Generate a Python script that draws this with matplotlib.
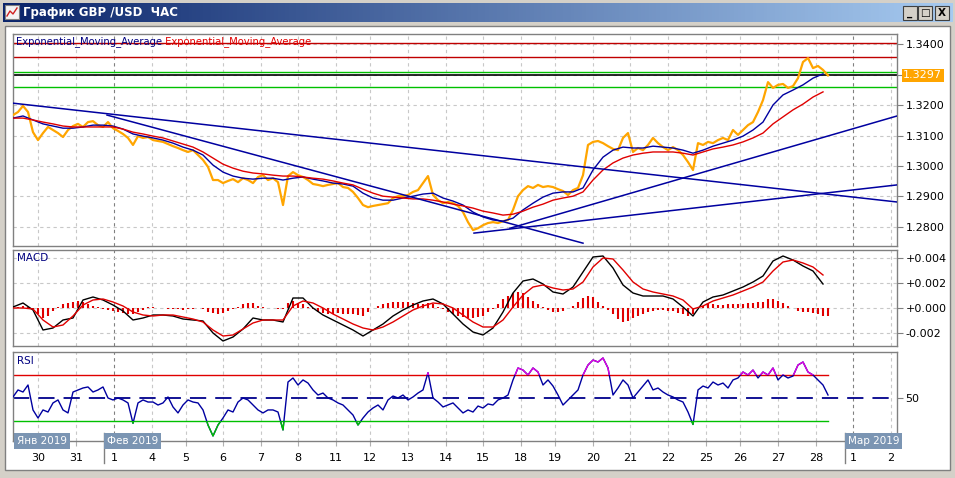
import numpy as np
import matplotlib
matplotlib.use("Agg")
import matplotlib.pyplot as plt
import matplotlib.transforms as mtrans
from matplotlib.colors import LinearSegmentedColormap
from matplotlib.patches import Rectangle
from matplotlib.lines import Line2D

W, H = 955, 478

# ---- data (GBP/USD, 1h) ----
# close price, one sample every 5 chart units
price = [
    1.3167, 1.3177, 1.3197, 1.3177, 1.3111, 1.3085, 1.3108, 1.3128, 1.3118, 1.3108,
    1.3095, 1.3118, 1.3131, 1.3138, 1.3128, 1.3144, 1.3147, 1.3134, 1.3128, 1.3144,
    1.3124, 1.3115, 1.3105, 1.3092, 1.3069, 1.3098, 1.3092, 1.3095, 1.3085, 1.3082,
    1.3079, 1.3072, 1.3065, 1.3059, 1.3052, 1.3046, 1.3052, 1.3036, 1.3020, 1.2997,
    1.2954, 1.2954, 1.2944, 1.2951, 1.2957, 1.2947, 1.2960, 1.2954, 1.2944, 1.2964,
    1.2970, 1.2954, 1.2960, 1.2947, 1.2872, 1.2967, 1.2980, 1.2970, 1.2964, 1.2954,
    1.2941, 1.2938, 1.2934, 1.2938, 1.2941, 1.2944, 1.2931, 1.2928, 1.2915, 1.2895,
    1.2872, 1.2865, 1.2869, 1.2872, 1.2875, 1.2878, 1.2895, 1.2901, 1.2901, 1.2905,
    1.2915, 1.2921, 1.2944, 1.2967, 1.2905, 1.2888, 1.2878, 1.2882, 1.2878, 1.2869,
    1.2849, 1.2816, 1.2790, 1.2796, 1.2806, 1.2813, 1.2816, 1.2813, 1.2819, 1.2823,
    1.2856, 1.2901, 1.2921, 1.2934, 1.2928, 1.2938, 1.2931, 1.2934, 1.2931, 1.2924,
    1.2918, 1.2905, 1.2921, 1.2928, 1.2970, 1.3069, 1.3079, 1.3082, 1.3075, 1.3065,
    1.3056, 1.3052, 1.3092, 1.3108, 1.3046, 1.3059, 1.3052, 1.3069, 1.3092, 1.3075,
    1.3062, 1.3052, 1.3062, 1.3052, 1.3036, 1.3013, 1.2987, 1.3075, 1.3069, 1.3079,
    1.3075, 1.3085, 1.3092, 1.3085, 1.3118, 1.3102, 1.3118, 1.3134, 1.3144, 1.3177,
    1.3216, 1.3275, 1.3256, 1.3266, 1.3269, 1.3256, 1.3262, 1.3288, 1.3341, 1.3354,
    1.3321, 1.3328, 1.3315, 1.3297,
]

# moving averages, one sample every 10 chart units
ema_fast = [
    1.3157, 1.3164, 1.3151, 1.3138, 1.3131, 1.3124, 1.3124, 1.3128, 1.3134, 1.3134,
    1.3131, 1.3121, 1.3105, 1.3098, 1.3092, 1.3085, 1.3075, 1.3062, 1.3052, 1.3036,
    1.3003, 1.2980, 1.2967, 1.2960, 1.2957, 1.2960, 1.2960, 1.2954, 1.2960, 1.2964,
    1.2957, 1.2951, 1.2944, 1.2941, 1.2934, 1.2911, 1.2895, 1.2888, 1.2888, 1.2895,
    1.2901, 1.2908, 1.2911, 1.2895, 1.2885, 1.2872, 1.2849, 1.2833, 1.2823, 1.2819,
    1.2829, 1.2856, 1.2878, 1.2898, 1.2911, 1.2915, 1.2915, 1.2928, 1.2987, 1.3029,
    1.3052, 1.3062, 1.3059, 1.3059, 1.3065, 1.3062, 1.3059, 1.3052, 1.3042, 1.3052,
    1.3065, 1.3075, 1.3085, 1.3098, 1.3118, 1.3144, 1.3200, 1.3233, 1.3249, 1.3266,
    1.3288, 1.3302,
]
ema_slow = [
    1.3157, 1.3157, 1.3151, 1.3144, 1.3138, 1.3131, 1.3128, 1.3128, 1.3128, 1.3128,
    1.3128, 1.3121, 1.3111, 1.3105, 1.3098, 1.3092, 1.3082, 1.3072, 1.3062, 1.3046,
    1.3026, 1.3006, 1.2993, 1.2983, 1.2977, 1.2974, 1.2970, 1.2967, 1.2967, 1.2964,
    1.2960, 1.2957, 1.2951, 1.2944, 1.2938, 1.2924, 1.2911, 1.2901, 1.2898, 1.2895,
    1.2892, 1.2892, 1.2888, 1.2882, 1.2875, 1.2869, 1.2862, 1.2852, 1.2846, 1.2839,
    1.2842, 1.2852, 1.2865, 1.2875, 1.2888, 1.2895, 1.2901, 1.2915, 1.2954, 1.2987,
    1.3010, 1.3026, 1.3036, 1.3042, 1.3046, 1.3046, 1.3046, 1.3042, 1.3036, 1.3046,
    1.3056, 1.3062, 1.3069, 1.3079, 1.3092, 1.3108, 1.3138, 1.3161, 1.3184, 1.3203,
    1.3226, 1.3243,
]

# MACD (units of 0.0001), lines every 10 chart units
macd_main = [
    0.8, 4, -1.6, -17.6, -16, -9.6, -8, 6.4, 8.8, 6.4,
    2.4, -2.4, -9.6, -8, -5.6, -5.6, -6.4, -8.8, -9.6, -10.4,
    -20, -26.4, -23.2, -16.8, -8, -9.6, -9.6, -11.2, 8, 8,
    0, -5.6, -9.6, -13.6, -17.6, -22.4, -17.6, -12.8, -6.4, -1.6,
    2.4, 5.6, 7.2, 3.2, -4.8, -12.8, -19.2, -21.6, -16, -3.2,
    12, 21.6, 23.2, 19.2, 12.8, 11.2, 16.8, 28.8, 40.8, 41.6,
    32, 18.4, 12, 9.6, 9.6, 9.6, 7.2, 0.8, -6.4, 4.8,
    8.8, 10.4, 13.6, 16.8, 20.8, 25.6, 37.6, 41.6, 38.4, 33.6,
    29.6, 19.2,
]
macd_signal = [
    0, 0, -0.8, -9.6, -15.2, -13.6, -6.4, 2.4, 6.4, 7.2,
    4.8, 1.6, -3.2, -5.6, -6.4, -5.6, -5.6, -7.2, -8.8, -11.2,
    -17.6, -22.4, -21.6, -16.8, -12, -9.6, -9.6, -9.6, 1.6, 5.6,
    4, 0, -4.8, -8.8, -12.8, -16, -17.6, -15.2, -11.2, -6.4,
    -1.6, 1.6, 4, 3.2, 0, -5.6, -11.2, -15.2, -15.2, -9.6,
    0.8, 10.4, 16.8, 18.4, 16, 14.4, 15.2, 20.8, 32.8, 40,
    39.2, 30.4, 20.8, 15.2, 12.8, 11.2, 9.6, 6.4, -0.8, 1.6,
    5.6, 8, 10.4, 13.6, 16.8, 20.8, 29.6, 36.8, 38.4, 36,
    32.8, 26.4,
]
# histogram, every 5 chart units
macd_hist = [
    0.5, 1, 2, 1, -1, -5, -8, -6, -2, 1,
    3, 4, 5, 6, 5, 3, 2, 0.5, -0.5, -1.5,
    -2.5, -3.5, -4, -5, -5, -3, -1.5, 0.5, 0.5, 0,
    -0.3, -0.5, -0.8, -1, -1.3, -1, -0.8, 0, -1, -3,
    -4, -5, -4, -2, -1, 1, 3, 4, 4, 2,
    0.5, 0, 0, -0.5, -1, 4, 6, 4, 3, 1,
    -1, -3, -4, -4.5, -4.5, -4, -4.5, -5, -5, -5.5,
    -6, -3, 0, 2, 3, 4, 4.5, 5, 5, 4.5,
    4, 3.5, 3.5, 4, 3, 1, -1, -3, -5, -6,
    -7, -8, -8, -7, -6, -3, -1, 3, 7, 10,
    12, 13, 12, 9, 6, 3, 1, -1.5, -3, -3,
    -2.5, 0, 2, 5, 8, 10, 9, 5, 2, -1.5,
    -5, -9, -11, -10, -8, -6, -5, -3, -2, -1.5,
    -1.5, -2, -2.5, -4, -5, -6, -5, 0, 2, 3,
    3, 2.5, 2.5, 3, 3, 3, 3, 4, 4, 4.5,
    5, 7, 7, 6, 4, 1.5, 0, -2, -3, -3.5,
    -4, -5, -6, -6,
]

# RSI, every 5 chart units
rsi = [
    50.9, 57.0, 55.2, 61.3, 39.6, 32.6, 39.6, 37.8, 45.7, 48.3,
    39.6, 37.0, 55.2, 57.0, 58.7, 59.6, 55.2, 57.0, 59.6, 50.0,
    48.3, 50.0, 48.3, 45.7, 28.0, 45.7, 48.3, 46.5, 46.5, 43.9,
    45.7, 50.9, 42.2, 37.0, 43.9, 48.3, 46.5, 45.7, 39.6, 26.5,
    17.0, 26.5, 32.6, 39.6, 37.8, 46.5, 50.0, 48.3, 43.9, 39.6,
    37.0, 39.6, 39.6, 37.8, 22.2, 63.9, 67.4, 61.3, 65.7, 63.0,
    57.0, 52.6, 54.3, 50.0, 48.3, 45.7, 43.9, 39.6, 35.2, 26.5,
    32.6, 37.8, 41.3, 43.9, 39.6, 48.3, 51.7, 50.0, 52.6, 48.3,
    50.9, 54.3, 57.0, 72.0, 50.0, 46.5, 42.2, 43.9, 45.7, 41.3,
    37.0, 39.6, 37.8, 43.0, 41.3, 44.8, 43.9, 48.3, 50.0, 52.6,
    65.7, 76.1, 74.3, 70.0, 76.1, 72.6, 61.3, 65.7, 60.4, 52.6,
    43.9, 48.3, 52.6, 57.0, 70.0, 78.7, 83.0, 81.3, 84.8, 76.1,
    52.6, 58.7, 65.7, 61.3, 50.0, 55.2, 60.4, 65.7, 57.0, 58.7,
    55.2, 52.6, 50.9, 48.3, 46.5, 37.8, 27.0, 57.0, 60.4, 58.7,
    63.9, 61.3, 63.0, 58.7, 65.7, 67.4, 72.6, 70.0, 74.3, 67.4,
    72.6, 70.0, 76.1, 65.7, 70.0, 67.4, 69.1, 78.7, 81.3, 72.6,
    70.0, 65.7, 61.3, 52.6,
]

# drawn objects
red_levels = [1.3403, 1.3356]
green_levels = [1.3308, 1.3258]
last_price = 1.3297
trend_lines = [
    ((0, 1.3206), (884, 1.2882)),
    ((94, 1.3167), (570, 1.2747)),
    ((461, 1.2780), (884, 1.2938)),
    ((497, 1.2796), (884, 1.3164)),
]

# axis
day_labels = ['30', '31', '1', '4', '5', '6', '7', '8', '11', '12', '13', '14',
              '15', '18', '19', '20', '21', '22', '25', '26', '27', '28', '1', '2']
day_pos = [25, 63, 101, 139, 173, 210, 248, 285, 323, 357, 395, 433,
           470, 508, 542, 580, 617, 655, 693, 727, 765, 803, 840, 878]
month_names = ['Янв 2019', 'Фев 2019', 'Мар 2019']
month_pos = [1, 91, 832]
month_first_day = [101, 840]
price_ticks = [1.28, 1.29, 1.30, 1.31, 1.32, 1.33, 1.34]
price_labels = ['1.2800', '1.2900', '1.3000', '1.3100', '1.3200', '', '1.3400']
macd_ticks = [0.004, 0.002, 0.0, -0.002]
macd_labels = ['+0.004', '+0.002', '+0.000', '-0.002']

# ---- figure ----
fig = plt.figure(figsize=(W / 100, H / 100), dpi=100, facecolor='#D4D0C8')


def frac(x0, y0, x1, y1):
    return [x0 / W, 1 - y1 / H, (x1 - x0) / W, (y1 - y0) / H]


def fig_rect(x0, y0, x1, y1, **kw):
    fig.add_artist(Rectangle((x0 / W, 1 - y1 / H), (x1 - x0) / W, (y1 - y0) / H,
                             transform=fig.transFigure, **kw))


# window frame
fig_rect(5, 26, 950, 470, fc='white', ec='#808080', lw=1, zorder=-5)

tb = fig.add_axes(frac(3, 3, 952, 22))
grad = LinearSegmentedColormap.from_list('title', ['#0A246A', '#A6CAF0'])
tb.imshow(np.linspace(0, 1, 256)[None, :], cmap=grad, aspect='auto', extent=[0, 1, 0, 1])
tb.set_axis_off()
fig.text(23 / W, 1 - 12.5 / H, 'График GBP /USD  ЧАС', color='white',
         fontsize=8.5, fontweight='bold', va='center', ha='left')
fig_rect(5, 5, 19, 19, fc='#F4F4F4', ec='#808080', lw=0.8, zorder=3)
fig.add_artist(Line2D([7 / W, 10 / W, 13 / W, 17 / W],
                      [1 - 16 / H, 1 - 11 / H, 1 - 14 / H, 1 - 8 / H],
                      color='#D02020', lw=1, zorder=4))
for (bx, glyph) in [(903, '_'), (918, '□'), (935, 'X')]:
    fig_rect(bx, 6, bx + 14, 20, fc='#D4D0C8', ec='#404040', lw=0.8, zorder=3)
    fig.text((bx + 7) / W, 1 - 13 / H, glyph, fontsize=7.5, fontweight='bold',
             ha='center', va='center', zorder=4)

ax1 = fig.add_axes(frac(13, 34, 897, 246))
ax2 = fig.add_axes(frac(13, 250, 897, 346))
ax3 = fig.add_axes(frac(13, 352, 897, 441))

xp = np.arange(len(price)) * 5
xs = np.arange(len(ema_fast)) * 10
xh = np.arange(len(macd_hist)) * 5
xr = np.arange(len(rsi)) * 5

grid_kw = dict(color='#C8C8C8', ls=(0, (3, 3)), lw=0.8, zorder=0)
for ax in (ax1, ax2, ax3):
    ax.set_xlim(0, 884)
    for s in ax.spines.values():
        s.set_color('#808080')
        s.set_linewidth(1)
    for p in day_pos:
        dark = p in month_first_day
        ax.axvline(p, color='#808080' if dark else '#C8C8C8', ls=(0, (3, 3)),
                   lw=0.8, zorder=0)
    ax.tick_params(axis='y', left=False, right=True, labelleft=False,
                   labelright=True, length=4, color='#808080', labelsize=8, pad=2)
for ax in (ax1, ax2):
    ax.tick_params(axis='x', bottom=False, labelbottom=False)

# main price panel
ax1.set_ylim(1.27377, 1.34328)
ax1.set_yticks(price_ticks, price_labels)
for t in price_ticks:
    ax1.axhline(t, **grid_kw)
for lv in red_levels:
    ax1.axhline(lv, color='#C00000', lw=1, zorder=2)
for lv in green_levels:
    ax1.axhline(lv, color='#00C000', lw=1, zorder=2)
ax1.axhline(last_price, color='black', lw=1.2, zorder=2)
ax1.plot(xp, price, color='#FFA500', lw=1.6, zorder=3)
ax1.plot(xs, ema_fast, color='#0000A0', lw=1, zorder=4)
ax1.plot(xs, ema_slow, color='#E00000', lw=1, zorder=4)
for (x0, y0), (x1, y1) in trend_lines:
    ax1.plot([x0, x1], [y0, y1], color='#0000A0', lw=1.1, zorder=4)

ytr = mtrans.blended_transform_factory(ax1.transAxes, ax1.transData)
ax1.text(1.007, last_price, f'{last_price:.4f}', transform=ytr, va='center',
         ha='left', color='white', fontsize=8, clip_on=False, zorder=10,
         bbox=dict(boxstyle='square,pad=0.15', fc='#FFA500', ec='none'))
t1 = ax1.text(0.003, 0.965, 'Exponential_Moving_Average', transform=ax1.transAxes,
              color='#000080', fontsize=7.2, va='center', ha='left', zorder=6)
ax1.annotate(' Exponential_Moving_Average', xy=(1, 0), xycoords=t1,
             va='bottom', ha='left', color='#E00000', fontsize=7.2, zorder=6)

# MACD panel
ax2.set_ylim(-0.00304, 0.00464)
ax2.set_yticks(macd_ticks, macd_labels)
for t in macd_ticks:
    ax2.axhline(t, **grid_kw)
ax2.vlines(xh, 0, np.array(macd_hist) * 1e-4, color='#E00000', lw=1.5, zorder=2)
ax2.plot(xs, np.array(macd_main) * 1e-4, color='black', lw=1, zorder=3)
ax2.plot(xs, np.array(macd_signal) * 1e-4, color='#E00000', lw=1, zorder=3)
ax2.text(0.004, 0.92, 'MACD', transform=ax2.transAxes, color='#000080',
         fontsize=7.5, va='center', ha='left')

# RSI panel
ax3.set_ylim(12.6, 90)
ax3.set_yticks([50], ['50'])
ax3.axhline(50, color='#00008B', lw=1.3, ls=(0, (9, 5)), zorder=1)
ax3.plot([0, xr[-1]], [70, 70], color='#E00000', lw=1, zorder=2)
ax3.plot([0, xr[-1]], [30, 30], color='#00C000', lw=1, zorder=2)
ax3.plot(xr, rsi, color='#0000A0', lw=1, zorder=3)
for lo, hi, col in [(70, 100, '#E000E0'), (0, 30, '#00C000')]:
    ln, = ax3.plot(xr, rsi, color=col, lw=1, zorder=4)
    ln.set_clip_path(Rectangle((0, lo), 884, hi - lo, transform=ax3.transData))
ax3.text(0.004, 0.9, 'RSI', transform=ax3.transAxes, color='#000080',
         fontsize=7.5, va='center', ha='left')

# date axis
ax3.set_xticks(day_pos, day_labels)
ax3.tick_params(axis='x', length=3.6, color='#B0B0B0', labelsize=8, pad=5)
xtr = mtrans.blended_transform_factory(ax3.transData, ax3.transAxes)
for name, pos in zip(month_names, month_pos):
    ax3.text(pos + 3, 0.0, name, transform=xtr, va='center', ha='left',
             color='white', fontsize=7.5, clip_on=False, zorder=10,
             bbox=dict(boxstyle='square,pad=0.28', fc='#7B95B3', ec='none'))
for pos in month_pos[1:]:
    ax3.plot([pos, pos], [0.09, -0.25], transform=xtr, color='#808080',
             lw=1, clip_on=False, zorder=9)

fig.savefig('out.png', dpi=100, facecolor=fig.get_facecolor())
